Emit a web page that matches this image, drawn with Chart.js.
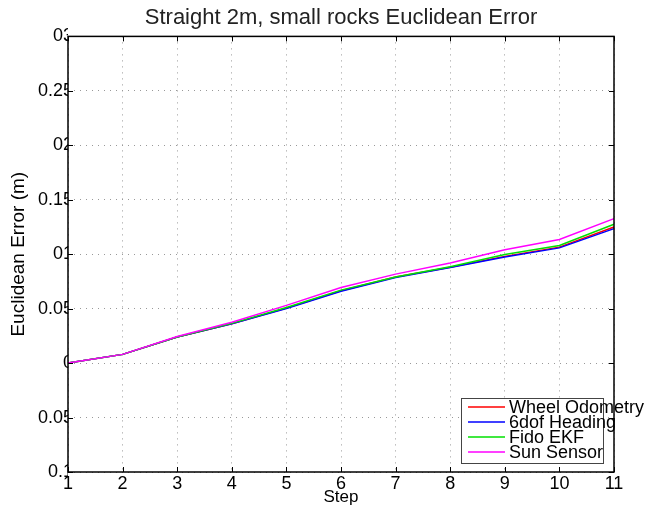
<!DOCTYPE html>
<html>
<head>
<meta charset="utf-8">
<script src="https://cdn.jsdelivr.net/npm/chart.js@4.4.1/dist/chart.umd.min.js"></script>
<style>
html, body { margin: 0; padding: 0; background: #fff; }
#wrap { width: 646px; height: 508px; }
</style>
</head>
<body>
<div id="wrap"><canvas id="lineChart1" width="646" height="508"></canvas></div>
<script>
var steps = ["1", "2", "3", "4", "5", "6", "7", "8", "9", "10", "11"]
//data
var wheelOdometry = [0, 0.008, 0.024, 0.036, 0.0505, 0.0665, 0.079, 0.088, 0.098, 0.1065, 0.125]
var headingSixDof = [0, 0.008, 0.024, 0.036, 0.050, 0.066, 0.0785, 0.0877, 0.0975, 0.1058, 0.1235]
var fidoEkf = [0, 0.008, 0.024, 0.0365, 0.051, 0.067, 0.079, 0.0884, 0.0997, 0.108, 0.1275]
var sunSensor = [0, 0.008, 0.0245, 0.0375, 0.053, 0.0694, 0.0817, 0.092, 0.104, 0.1135, 0.1327]
// y tick labels as printed, bottom to top
var yTickLabels = ["0.1", "0.05", "0", "0.05", "01", "0.15", "02", "0.25", "03"]
var seriesNames = ["Wheel Odometry", "6dof Heading", "Fido EKF", "Sun Sensor"]
var colors = ["#ff0000", "#0000ff", "#00e000", "#ff00ff"]
var tableName = "Straight 2m, small rocks Euclidean Error"

var font = "'Liberation Sans', Arial, sans-serif"

var boxPlugin = {
    id: "boxPlugin",
    afterDatasetsDraw: function(chart) {
        var ctx = chart.ctx
        var a = chart.chartArea
        var xs = chart.scales.x
        var ys = chart.scales.y
        ctx.save()
        ctx.strokeStyle = "#000"
        ctx.lineWidth = 1
        // inward tick marks on all four sides
        ctx.beginPath()
        xs.ticks.forEach(function(t, i) {
            var px = Math.round(xs.getPixelForTick(i)) + 0.5
            ctx.moveTo(px, a.bottom)
            ctx.lineTo(px, a.bottom - 5)
            ctx.moveTo(px, a.top)
            ctx.lineTo(px, a.top + 5)
        })
        ys.ticks.forEach(function(t, i) {
            var py = Math.round(ys.getPixelForTick(i)) + 0.5
            ctx.moveTo(a.left, py)
            ctx.lineTo(a.left + 5, py)
            ctx.moveTo(a.right, py)
            ctx.lineTo(a.right - 5, py)
        })
        ctx.stroke()
        ctx.lineWidth = 1.5
        ctx.strokeRect(a.left, a.top, a.right - a.left, a.bottom - a.top)

        // legend box in the lower right corner
        var ds = chart.data.datasets
        var bw = 142, bh = 65
        var bx = Math.round(a.right - 11 - bw)
        var by = Math.round(a.bottom - 9 - bh)
        ctx.fillStyle = "#fff"
        ctx.fillRect(bx, by, bw, bh)
        ctx.strokeStyle = "#444"
        ctx.lineWidth = 1
        ctx.strokeRect(bx + 0.5, by + 0.5, bw, bh)
        ctx.font = "18px " + font
        ctx.textBaseline = "middle"
        ctx.textAlign = "left"
        for (var i = 0; i < ds.length; i++) {
            var ry = by + 9 + i * 15
            ctx.strokeStyle = ds[i].borderColor
            ctx.lineWidth = 1.5
            ctx.beginPath()
            ctx.moveTo(bx + 7, ry)
            ctx.lineTo(bx + 44, ry)
            ctx.stroke()
            ctx.fillStyle = "#000"
            ctx.fillText(ds[i].label, bx + 48, ry + 1)
        }
        ctx.restore()
    }
}

var datasets = [wheelOdometry, headingSixDof, fidoEkf, sunSensor].map(function(d, i) {
    return {
        label: seriesNames[i],
        data: d,
        borderColor: colors[i],
        backgroundColor: colors[i],
        borderWidth: 1.5,
        pointRadius: 0,
        tension: 0,
        order: 3 - i
    }
})

var myChart = document.getElementById("lineChart1").getContext("2d")
var chart = new Chart(myChart, {
    type: "line",
    data: {
        labels: steps,
        datasets: datasets
    },
    plugins: [boxPlugin],
    options: {
        responsive: false,
        animation: false,
        layout: {
            padding: { left: 0, right: 32, top: 0, bottom: 0 }
        },
        plugins: {
            title: {
                display: true,
                fullSize: false,
                text: tableName,
                color: "#222",
                font: { family: font, size: 22, weight: "normal", lineHeight: 1.2 },
                padding: { top: 5, bottom: 5 }
            },
            legend: { display: false },
            tooltip: { enabled: false }
        },
        scales: {
            x: {
                type: "category",
                offset: false,
                grid: {
                    color: "#999",
                    drawTicks: false
                },
                border: { display: false, dash: [1, 5] },
                ticks: {
                    color: "#000",
                    font: { family: font, size: 18 },
                    padding: 1,
                    maxRotation: 0,
                    autoSkip: false
                },
                title: {
                    display: true,
                    text: "Step",
                    color: "#000",
                    font: { family: font, size: 17 },
                    padding: 0
                },
                afterFit: function(scale) { scale.height = 36 }
            },
            y: {
                min: -0.1,
                max: 0.3,
                grid: {
                    color: "#999",
                    drawTicks: false
                },
                border: { display: false, dash: [1, 5] },
                ticks: {
                    stepSize: 0.05,
                    color: "#000",
                    font: { family: font, size: 18 },
                    padding: -5,
                    callback: function(v, i) { return yTickLabels[i] }
                },
                title: {
                    display: true,
                    text: "Euclidean Error (m)",
                    color: "#000",
                    font: { family: font, size: 19 },
                    padding: { top: 7, bottom: 0 }
                },
                afterFit: function(scale) { scale.width = 68 }
            }
        }
    }
})
</script>
</body>
</html>
